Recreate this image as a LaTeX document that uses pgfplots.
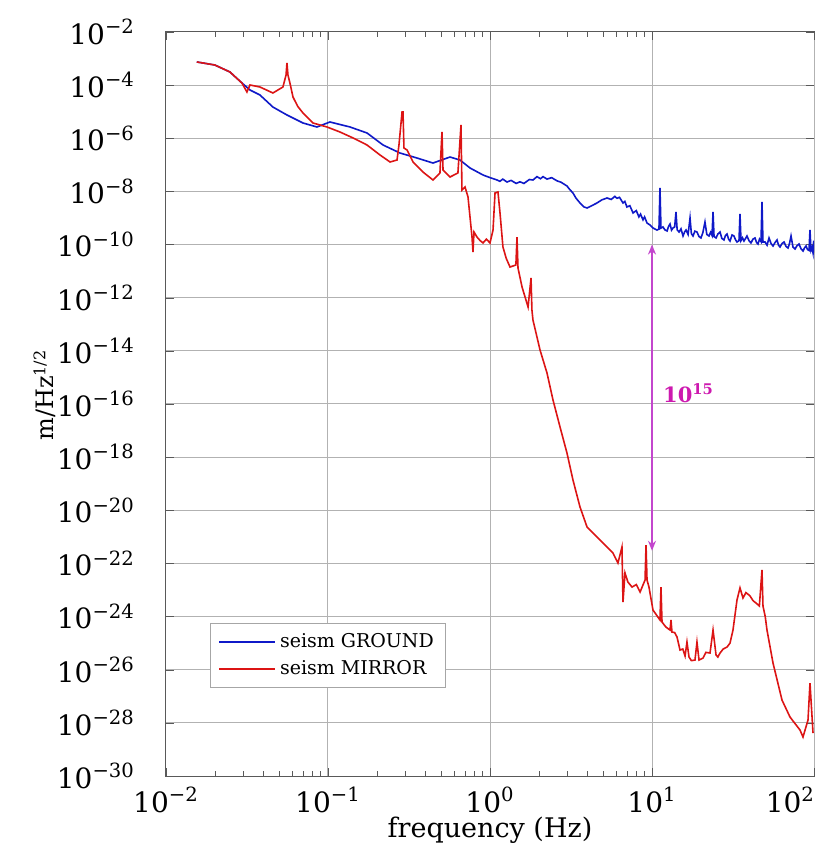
\documentclass[border=0pt]{standalone}
\usepackage{fontspec}
\setmainfont{DejaVu Serif}
\usepackage{pgfplots}
\pgfplotsset{compat=1.18}
\usetikzlibrary{arrows.meta}

\definecolor{groundblue}{RGB}{15,25,200}
\definecolor{mirrorred}{RGB}{220,20,20}
\definecolor{arrowmag}{RGB}{195,70,205}
\definecolor{labelmag}{RGB}{205,25,175}

\begin{document}
\begin{tikzpicture}
\begin{loglogaxis}[
  scale only axis,
  width=324pt, height=372pt,
  xmin=0.01, xmax=100,
  ymin=1e-30, ymax=1e-2,
  xtick={0.01,0.1,1,10},
  xticklabels={10\textsuperscript{−2},10\textsuperscript{−1},10\textsuperscript{0},10\textsuperscript{1}},
  extra x ticks={100},
  extra x tick labels={10\textsuperscript{2}},
  extra x tick style={xticklabel style={anchor=north east, xshift=4pt}},
  ytick={1e-30,1e-28,1e-26,1e-24,1e-22,1e-20,1e-18,1e-16,1e-14,1e-12,1e-10,1e-8,1e-6,1e-4,1e-2},
  yticklabels={10\textsuperscript{−30},10\textsuperscript{−28},10\textsuperscript{−26},10\textsuperscript{−24},10\textsuperscript{−22},10\textsuperscript{−20},10\textsuperscript{−18},10\textsuperscript{−16},10\textsuperscript{−14},10\textsuperscript{−12},10\textsuperscript{−10},10\textsuperscript{−8},10\textsuperscript{−6},10\textsuperscript{−4},10\textsuperscript{−2}},
  yminorticks=false,
  xmajorgrids, ymajorgrids,
  grid style={gray!60, line width=0.5pt},
  axis line style={black!65, line width=0.5pt},
  tick style={black!65},
  tick align=inside,
  major tick length=4pt, minor tick length=2.5pt,
  ticklabel style={font=\fontsize{14}{16}\selectfont},
  yticklabel style={xshift=-12pt},
  xticklabel style={yshift=-2pt},
  xlabel={frequency (Hz)},
  ylabel={m/Hz\textsuperscript{1/2}},
  xlabel style={font=\fontsize{13.5}{15}\selectfont, at={(axis description cs:0.5,-0.0726)}, anchor=center},
  ylabel style={font=\fontsize{12}{14}\selectfont, at={(axis description cs:-0.187,0.512)}, anchor=center},
  legend style={at={(0.068,0.118)}, anchor=south west, draw=gray!70,
    font=\fontsize{9.5}{11}\selectfont, inner xsep=4pt, inner ysep=3pt,
    row sep=1pt, cells={anchor=west}},
  legend image code/.code={\draw[#1] (0pt,0pt) -- (28pt,0pt);},
]

% seism GROUND
\addplot[groundblue, line width=0.8pt] coordinates {
(0.0155,7.43e-4)(0.0200,5.73e-4)(0.0248,3.13e-4)(0.0294,1.21e-4)(0.0330,6.56e-5)
(0.0380,4.26e-5)(0.0457,1.50e-5)(0.0558,7.52e-6)(0.0701,3.76e-6)(0.0855,2.66e-6)
(0.1028,4.10e-6)(0.1367,2.66e-6)(0.1742,1.58e-6)(0.2187,5.58e-7)(0.2781,2.79e-7)
(0.3540,1.81e-7)(0.4446,1.17e-7)(0.5663,1.97e-7)(0.6527,1.52e-7)(0.7531,7.61e-8)
(0.9057,4.15e-8)(1.0,3.3e-8)(1.105,2.69e-8)(1.15,2.4e-8)(1.2,2.9e-8)(1.273,2.26e-8)
(1.35,2.6e-8)(1.45,2.0e-8)(1.531,2.3e-8)(1.62,2.0e-8)(1.75,2.8e-8)(1.842,2.69e-8)
(1.95,3.6e-8)(2.05,3.0e-8)(2.125,3.6e-8)(2.25,2.9e-8)(2.4,3.3e-8)(2.593,2.5e-8)
(2.75,2.2e-8)(2.986,1.6e-8)(3.1,1.2e-8)(3.252,8.71e-9)(3.4,5.5e-9)(3.594,3.67e-9)
(3.8,2.6e-9)(3.972,2.38e-9)(4.2,2.8e-9)(4.574,3.67e-9)(4.9,4.8e-9)(5.275,5.65e-9)
(5.6,5.0e-9)(5.9,6.5e-9)(6.080,5.5e-9)(6.3,6.0e-9)(6.621,3.67e-9)(6.8,4.2e-9)
(7.0,2.6e-9)(7.3,2.9e-9)(7.640,1.54e-9)(8.0,1.9e-9)(8.3,1.1e-9)(8.5,1.4e-9)
(8.8,8.5e-10)(9.0,1.1e-9)(9.318,6.48e-10)(9.7,5.5e-10)(10.14,4.20e-10)
(10.73,3.53e-10)(11.04,3.8e-10)(11.20,1.35e-8)(11.36,4.2e-10)(11.69,4.58e-10)
(12.0,3.6e-10)(12.39,3.24e-10)(12.65,4.8e-10)(12.92,5.94e-10)(13.2,3.5e-10)
(13.48,4.20e-10)(13.8,4.6e-10)(14.06,1.68e-9)(14.3,3.6e-10)(14.69,2.97e-10)
(15.1,3.9e-10)(15.54,2.10e-10)(15.9,3.0e-10)(16.22,3.53e-10)(16.7,2.4e-10)
(17.17,1.0e-9)(17.5,2.6e-10)(17.91,2.10e-10)(18.4,3.2e-10)(18.95,2.97e-10)
(19.5,2.0e-10)(20.05,1.77e-10)(20.6,2.8e-10)(21.23,7.06e-10)(21.8,2.4e-10)
(22.48,2.10e-10)(23.0,2.9e-10)(23.47,2.2e-10)(23.81,1.68e-9)(24.15,2.0e-10)
(24.85,1.77e-10)(25.5,2.5e-10)(26.30,2.97e-10)(27.0,1.7e-10)(27.82,1.49e-10)
(28.4,2.2e-10)(29.06,2.49e-10)(29.7,1.6e-10)(30.30,1.36e-10)(31.2,2.3e-10)
(32.06,2.10e-10)(32.8,1.5e-10)(33.47,1.25e-10)(34.44,1.4e-10)(34.93,1.41e-9)
(35.43,1.4e-10)(36.2,1.8e-10)(36.97,1.36e-10)(37.8,1.7e-10)(38.58,2.10e-10)
(39.7,1.4e-10)(40.83,1.15e-10)(42.0,1.6e-10)(43.22,1.77e-10)(44.2,1.2e-10)
(45.11,1.05e-10)(46.1,1.6e-10)(47.08,1.3e-10)(47.75,4.00e-9)(48.42,1.25e-10)
(49.86,1.25e-10)(51.3,9.5e-11)(52.76,1.77e-10)(54.3,1.1e-10)(55.85,8.83e-11)
(57.5,1.2e-10)(59.13,1.49e-10)(60.4,9.5e-11)(61.70,8.09e-11)(63.5,1.1e-10)
(65.31,1.25e-10)(67.2,8.5e-11)(69.14,7.42e-11)(70.6,1.1e-10)(72.15,2.10e-10)
(74.2,8.0e-11)(76.36,6.81e-11)(78.5,9.0e-11)(80.83,1.05e-10)(83.1,7.0e-11)
(85.53,5.72e-11)(87.4,7.5e-11)(89.29,8.83e-11)(91.2,6.5e-11)(93.12,6.0e-11)
(94.45,3.53e-10)(95.80,6.0e-11)(97.2,7.5e-11)(98.62,4.81e-11)(99.5,1.4e-10)(100,5.0e-11)
};
\addlegendentry{seism GROUND}

% seism MIRROR
\addplot[mirrorred, line width=0.8pt] coordinates {
(0.0155,7.43e-4)(0.0200,5.73e-4)(0.0248,3.13e-4)(0.0294,1.21e-4)(0.0316,5.52e-5)
(0.0330,1.01e-4)(0.0380,8.51e-5)(0.0457,5.06e-5)(0.0527,8.51e-5)(0.0551,2.41e-4)
(0.0558,6.81e-4)(0.0566,2.41e-4)(0.0582,1.21e-4)(0.0608,3.58e-5)(0.0650,1.6e-5)
(0.0701,8.93e-6)(0.0807,3.76e-6)(0.0986,2.66e-6)(0.1186,1.72e-6)(0.1426,1.03e-6)
(0.1742,5.58e-7)(0.2094,2.35e-7)(0.2416,1.28e-7)(0.2667,1.52e-7)(0.2742,5.58e-7)
(0.2865,9.75e-6)(0.2904,9.75e-6)(0.2944,4.31e-7)(0.3076,3.62e-7)(0.3350,1.28e-7)
(0.3857,5.38e-8)(0.4446,2.69e-8)(0.4909,4.93e-8)(0.4989,3.62e-7)(0.5055,1.72e-6)
(0.5129,6.40e-8)(0.5663,3.49e-8)(0.6339,4.93e-8)(0.6622,3.16e-6)(0.6714,1.13e-8)
(0.7013,1.47e-8)(0.7316,6.17e-9)(0.7745,1.92e-10)(0.7852,5.25e-11)(0.7966,2.97e-10)
(0.8312,1.92e-10)(0.87,1.4e-10)(0.9057,1.15e-10)(0.95,1.6e-10)(1.000,1.15e-10)
(1.044,3.53e-10)(1.074,8.71e-9)(1.120,9.51e-9)(1.153,1.54e-9)(1.202,8.09e-11)
(1.26,3.0e-11)(1.329,1.43e-11)(1.445,1.70e-11)(1.468,1.92e-10)(1.489,1.31e-11)
(1.577,2.53e-12)(1.718,4.47e-13)(1.792,5.51e-12)(1.815,3.44e-13)(1.842,1.45e-13)
(2.036,1.08e-14)(2.248,1.47e-15)(2.449,1.41e-16)(2.706,1.36e-17)(2.986,1.43e-18)
(3.252,1.38e-19)(3.594,1.33e-20)(3.972,2.35e-21)(4.772,7.59e-22)(5.743,2.46e-22)
(6.166,1.04e-22)(6.525,4.14e-22)(6.621,3.53e-24)(6.813,4.36e-23)(7.1,2.0e-23)
(7.530,1.29e-23)(8.0,1.6e-23)(8.440,8.39e-24)(9.058,2.37e-23)(9.187,4.92e-22)
(9.318,2.37e-23)(9.580,1.29e-23)(10.14,1.76e-24)(10.6,1.2e-24)(11.20,7.41e-25)
(11.36,1.29e-23)(11.53,6.22e-25)(12.2,4.0e-25)(12.92,3.11e-25)(13.10,7.41e-25)
(13.28,2.62e-25)(13.8,2.5e-25)(14.27,1.70e-25)(14.89,5.51e-26)(15.5,6.0e-26)
(16.00,3.27e-26)(16.44,1.10e-25)(16.92,3.00e-26)(17.5,2.2e-26)(18.42,2.31e-26)
(18.95,1.10e-25)(19.51,2.31e-26)(20.65,2.75e-26)(21.5,4.5e-26)(22.81,4.25e-26)
(23.81,3.11e-25)(24.85,3.56e-26)(25.5,3.0e-26)(26.30,4.25e-26)(27.5,6.0e-26)
(29.06,7.14e-26)(30.3,1.0e-25)(31.62,3.11e-25)(33.47,4.20e-24)(34.93,1.2e-23)
(36.45,5.0e-24)(38.0,8.0e-24)(40.27,6.0e-24)(42.0,4.0e-24)(44.48,3.0e-24)
(46.0,2.5e-24)(47.75,5.65e-23)(48.42,2.5e-24)(50.0,1.0e-24)(51.26,3.11e-25)
(55.85,1.78e-26)(63.45,7.23e-28)(71.08,1.66e-28)(81.96,5.37e-29)(85.53,2.93e-29)
(91.83,1.28e-28)(94.45,3.15e-27)(98.62,4.14e-29)
};
\addlegendentry{seism MIRROR}

% attenuation arrow
\draw[arrowmag, line width=0.9pt, {Stealth[length=5pt,width=4pt]}-{Stealth[length=5pt,width=4pt]}]
  (axis cs:10,1e-10) -- (axis cs:10,3e-22);
\node[labelmag, anchor=west, font=\bfseries\fontsize{10.5}{12}\selectfont]
  at (axis cs:10.6,2.6e-16) {10\textsuperscript{15}};

\end{loglogaxis}
\pgfresetboundingbox
\useasboundingbox (-83pt,-39.5pt) rectangle (327pt,388pt);
\end{tikzpicture}
\end{document}
